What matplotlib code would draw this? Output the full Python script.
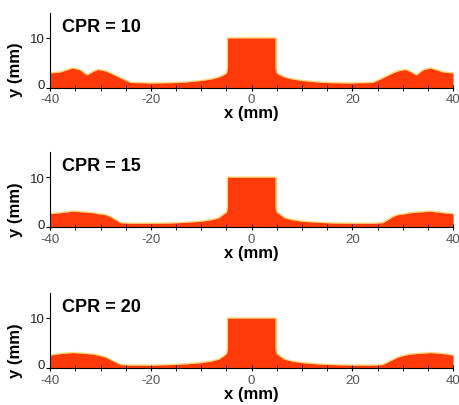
import numpy as np
import matplotlib.pyplot as plt
import matplotlib.transforms as mtransforms

plt.rcParams['font.family'] = ['Liberation Sans', 'DejaVu Sans']
plt.rcParams['axes.unicode_minus'] = False

# profile of the deposit, left half (x from -40 to the block edge), mirrored for the right half
x_half = [-40, -38, -35.5, -34, -32.7, -31.5, -30.5, -29, -28, -26, -24, -20, -16, -13, -10, -8, -6.5, -5.6, -5.0]

h10 = [3.0, 3.2, 4.0, 3.6, 2.6, 3.3, 3.7, 3.4, 3.0, 2.0, 1.1, 1.0, 1.05, 1.2, 1.5, 1.8, 2.2, 2.6, 3.0]
h15 = [2.7, 2.9, 3.2, 3.1, 3.0, 2.9, 2.7, 2.5, 2.1, 0.9, 0.8, 0.8, 0.85, 1.0, 1.2, 1.5, 1.9, 2.6, 3.0]
h20 = [2.6, 2.9, 3.1, 3.0, 2.9, 2.8, 2.6, 2.2, 1.7, 0.7, 0.6, 0.6, 0.7, 0.85, 1.1, 1.4, 1.8, 2.4, 2.9]

block_x = [-4.8, 4.8]
block_h = 10

labels = ['CPR = 10', 'CPR = 15', 'CPR = 20']
profiles = [h10, h15, h20]

fig = plt.figure(figsize=(4.6, 4.06), dpi=100)
bottoms = [0.781, 0.438, 0.091]
for lab, h, b in zip(labels, profiles, bottoms):
    ax = fig.add_axes([0.109, b, 0.876, 0.185])
    xs = x_half + [block_x[0], block_x[0], block_x[1], block_x[1]] + [-v for v in x_half[::-1]]
    ys = h + [h[-1] + 1, block_h, block_h, h[-1] + 1] + h[::-1]
    ax.fill_between(xs, 0, ys, color='#ff3a0a', lw=0)
    ax.plot(xs, ys, color='#ffc840', lw=1.0, alpha=0.7)
    ax.set_xlim(-40, 40)
    ax.set_ylim(0, 15)
    ax.set_xticks([-40, -20, 0, 20, 40])
    ax.set_xticks(np.arange(-40, 41, 5), minor=True)
    ax.set_yticks([0, 10])
    ax.spines['top'].set_visible(False)
    ax.spines['right'].set_visible(False)
    ax.tick_params(axis='x', which='both', direction='inout', length=5, labelsize=9.5,
                   labelcolor='#555555', pad=1.5)
    ax.tick_params(axis='y', direction='out', length=3, labelsize=9.5, pad=1, labelcolor='#222222')
    # nudge the "0" label up a little so it does not sit on the "-40"
    zero_lab = ax.yaxis.get_major_ticks()[0].label1
    zero_lab.set_transform(zero_lab.get_transform() +
                           mtransforms.ScaledTranslation(0, 3 / 72, fig.dpi_scale_trans))
    ax.set_xlabel('x (mm)', fontsize=12, fontweight='bold', labelpad=0)
    ax.set_ylabel('y (mm)', fontsize=12, fontweight='bold')
    ax.yaxis.set_label_coords(-0.068, 0.25)
    ax.text(0.03, 0.93, lab, transform=ax.transAxes, fontsize=13, fontweight='bold',
            va='top', ha='left')

plt.savefig('out.png', dpi=100)
